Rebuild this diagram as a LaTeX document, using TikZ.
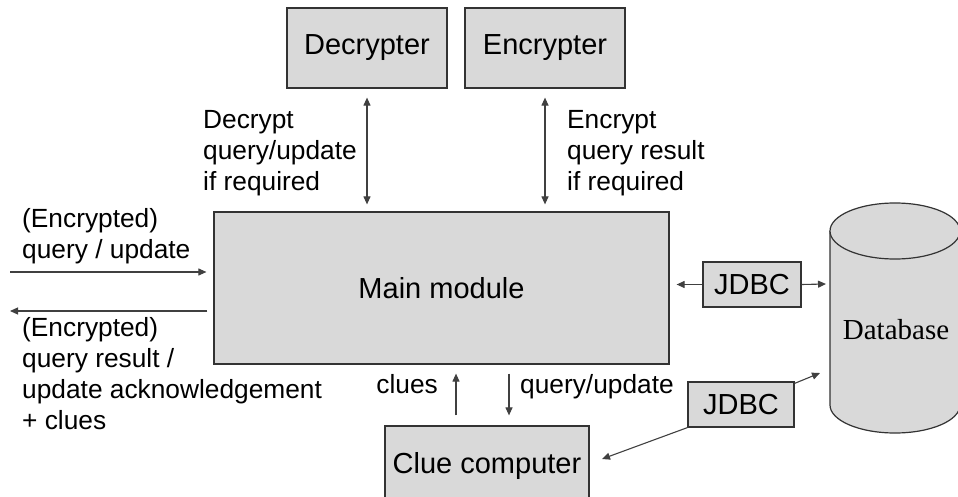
\documentclass[tikz,border=0pt]{standalone}
\usepackage{fontspec}
\setmainfont{Liberation Sans}
\newfontfamily\dbfont{Liberation Serif}
\usetikzlibrary{arrows.meta}
\begin{document}
\begin{tikzpicture}[x=1pt,y=-1pt,
  box/.style={draw=black!80, fill=black!15, line width=1.2pt, inner sep=0,
              font=\fontsize{29}{34}\selectfont},
  lbl/.style={inner sep=0, anchor=north west, align=left,
              font=\fontsize{26.3}{31}\selectfont},
  tip/.tip={Triangle[length=8pt,width=7pt]},
  link/.style={draw=black!75, line width=1.1pt, -tip},
  both/.style={draw=black!75, line width=1.1pt, tip-tip}
]
\useasboundingbox (0,0) rectangle (958,497);

% processing blocks
\node[box, minimum width=160pt, minimum height=80pt] (dec) at (367,48) {Decrypter};
\node[box, minimum width=160pt, minimum height=80pt] (enc) at (545,48) {Encrypter};
\node[box, minimum width=455pt, minimum height=152pt] (main) at (441.5,288) {Main module};
\node[box, minimum width=98pt, minimum height=45pt] (jdbcA) at (752,284.5) {JDBC};
\node[box, minimum width=106pt, minimum height=45pt] (jdbcB) at (741,404.5) {JDBC};
\node[box, minimum width=204pt, minimum height=80pt] (clue) at (487,466) {Clue computer};

% database cylinder
\path[fill=black!15] (830,231) -- (830,405)
  arc[start angle=180, end angle=0, x radius=65, y radius=28] -- (960,231) -- cycle;
\draw[black!80, line width=1.2pt] (830,231) -- (830,405)
  arc[start angle=180, end angle=0, x radius=65, y radius=28] -- (960,231);
\draw[black!80, fill=black!15, line width=1.2pt] (895,231) ellipse [x radius=65, y radius=28];
\node[inner sep=0, font=\dbfont\fontsize{29}{34}\selectfont] (db) at (896,330) {Database};

% free ends of the connectors
\coordinate (inL) at (10,272);
\coordinate (outL) at (10,311);
\coordinate (dbA) at (826,284);
\coordinate (dbB) at (820,373);
\coordinate (clueIn) at (602,459);

% connectors
\draw[both, shorten <=9pt, shorten >=7pt] (dec.south) -- (dec.south |- main.north);
\draw[both, shorten <=9pt, shorten >=7pt] (enc.south) -- (enc.south |- main.north);
\draw[link, shorten >=7pt] (inL) -- (inL -| main.west);
\draw[link, shorten <=6pt] (outL -| main.west) -- (outL);
\draw[link, shorten >=7pt] (jdbcA.west) -- (jdbcA.west -| main.east);
\draw[link] (jdbcA.east) -- (dbA);
\draw[link] ([yshift=-2pt]jdbcB.north east) -- (dbB);
\draw[link] (jdbcB.south west) -- (clueIn);
\draw[link, shorten <=10pt, shorten >=9pt] (clue.north -| 456,0) -- (main.south -| 456,0);
\draw[link, shorten <=9pt, shorten >=10pt] (main.south -| 509,0) -- (clue.north -| 509,0);

% labels
\node[lbl] (tDec) at (203,110) {Decrypt\\query/update\\if required};
\node[lbl] (tEnc) at (567,110) {Encrypt\\query result\\if required};
\node[lbl] (tIn) at (22,208) {(Encrypted)\\query / update};
\node[lbl] (tOut) at (22,317) {(Encrypted)\\query result /\\update acknowledgement\\+ clues};
\node[inner sep=0, anchor=base east, font=\fontsize{26.3}{31}\selectfont] (tClues) at (438,393) {clues};
\node[inner sep=0, anchor=base west, font=\fontsize{26.3}{31}\selectfont] (tQuery) at (520,393) {query/update};
\end{tikzpicture}
\end{document}
